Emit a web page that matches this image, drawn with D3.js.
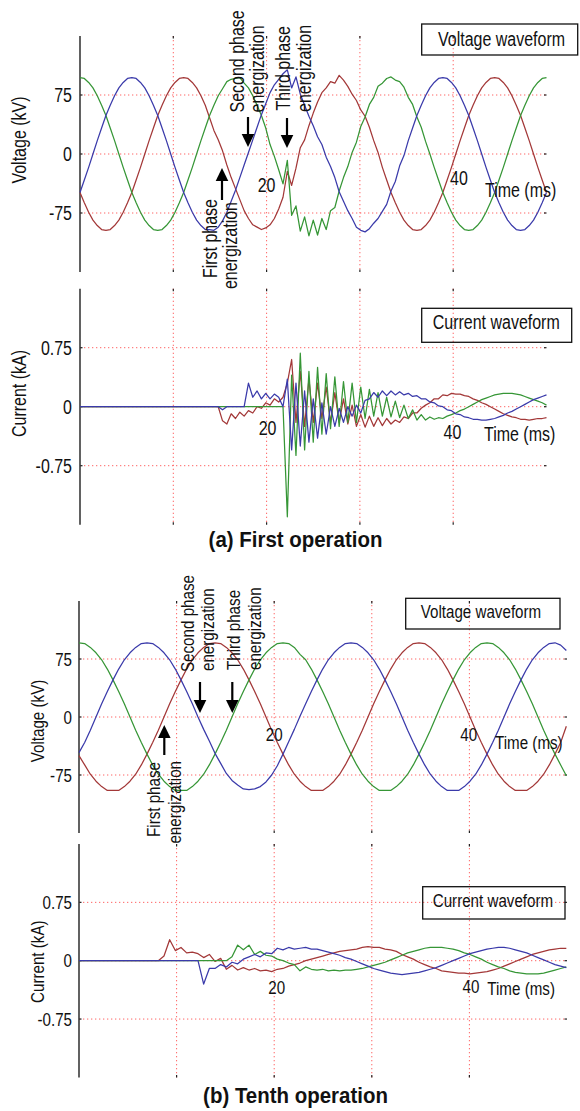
<!DOCTYPE html>
<html>
<head>
<meta charset="utf-8">
<script src="https://cdn.jsdelivr.net/npm/d3@7"></script>
<style>
  html, body { margin: 0; padding: 0; background: #fff; }
  svg text { font-family: "Liberation Sans", Arial, Helvetica, sans-serif; fill: #111; }
</style>
</head>
<body>
<svg id="chart" width="580" height="1111"></svg>
<script>
// ---------------------------------------------------------------
// Axes and ticks
// ---------------------------------------------------------------
const timeDomainMs = [0, 50];
const gridTimesMs = [10, 20, 30, 40];
const timeTickLabels = [20, 40];
const voltageDomain = [-150, 150];
const voltageTicks = [-75, 0, 75];
const voltageTickLabels = ["-75", "0", "75"];
const currentDomain = [-1.5, 1.5];
const currentTicks = [-0.75, 0, 0.75];
const currentTickLabels = ["-0.75", "0", "0.75"];

// Sampling interval of each recorded waveform (ms per sample)
const sampleStepA = 50 / 108;   // first operation record
const sampleStepB = 0.5806;     // tenth operation record

// ---------------------------------------------------------------
// (a) First operation - phase voltages (kV)
// ---------------------------------------------------------------
const voltA_red = [
  -49, -62, -74, -84, -91, -96, -97, -96, -91, -84,
  -74, -62, -49, -33, -17, 0, 17, 33, 49, 62,
  74, 84, 91, 96, 97, 96, 91, 84, 74, 62,
  46, 30, 18, 4, -14, -30, -44, -58, -72, -82,
  -90, -93, -96, -94, -90, -82, -70, -55, -22, -40,
  -18, 8, 18, 36, 52, 66, 78, 84, 92, 90,
  100, 94, 86, 76, 68, 56, 48, 34, 17, 2,
  -17, -33, -49, -62, -74, -84, -91, -96, -97, -96,
  -91, -84, -74, -62, -49, -33, -17, 0, 17, 33,
  49, 62, 74, 84, 91, 96, 97, 96, 91, 84,
  74, 62, 49, 33, 17, 0, -17, -33, -49
];
const voltA_green = [
  97, 96, 91, 84, 74, 62, 49, 33, 17, 0,
  -17, -33, -49, -62, -74, -84, -91, -96, -97, -96,
  -91, -84, -74, -62, -49, -33, -17, 0, 17, 33,
  49, 62, 74, 83, 92, 95, 96, 97, 90, 84,
  74, 62, 49, 33, 12, -3, -20, -38, -8, -78,
  -66, -98, -80, -104, -84, -103, -82, -96, -72, -68,
  -47, -30, -16, 2, 15, 35, 47, 63, 72, 86,
  90, 96, 98, 94, 92, 85, 72, 63, 47, 34,
  16, 0, -17, -33, -49, -62, -74, -84, -91, -96,
  -97, -96, -91, -84, -74, -62, -49, -33, -17, 0,
  17, 33, 49, 62, 74, 84, 91, 96, 97
];
const voltA_blue = [
  -49, -33, -17, 0, 17, 33, 49, 62, 74, 84,
  91, 96, 97, 96, 91, 84, 74, 62, 49, 33,
  17, 0, -17, -33, -49, -62, -74, -84, -91, -96,
  -96, -97, -93, -85, -74, -60, -46, -30, -14, 2,
  18, 34, 50, 64, 78, 88, 95, 102, 107, 84,
  98, 76, 62, 48, 36, 22, 12, -4, -16, -30,
  -48, -60, -72, -82, -93, -97, -99, -95, -88, -82,
  -73, -64, -47, -35, -15, -2, 17, 33, 49, 62,
  74, 84, 91, 96, 97, 96, 91, 84, 74, 62,
  49, 33, 17, 0, -17, -33, -49, -62, -74, -84,
  -91, -96, -97, -96, -91, -84, -74, -62, -49
];

// ---------------------------------------------------------------
// (a) First operation - phase currents (kA)
// ---------------------------------------------------------------
const currA_red = [
  0, 0, 0, 0, 0, 0, 0, 0, 0, 0,
  0, 0, 0, 0, 0, 0, 0, 0, 0, 0,
  0, 0, 0, 0, 0, 0, 0, 0, 0, 0,
  0, 0, 0, -0.18, -0.22, -0.09, -0.15, -0.07, -0.12, -0.05,
  -0.08, 0.0, -0.02, 0.05, 0.02, 0.1, 0.06, 0.12, 0.3, 0.6,
  -0.2, 0.45, -0.25, 0.35, -0.2, 0.3, -0.15, 0.25, -0.2, 0.18,
  -0.2, 0.1, -0.22, 0.02, -0.25, -0.1, -0.26, -0.12, -0.25, -0.14,
  -0.24, -0.15, -0.22, -0.17, -0.2, -0.13, -0.15, -0.08, -0.08, -0.02,
  0.02, 0.05, 0.1, 0.1, 0.15, 0.14, 0.17, 0.16, 0.16, 0.14,
  0.13, 0.1, 0.08, 0.05, 0.03, 0.0, -0.03, -0.06, -0.09, -0.11,
  -0.13, -0.14, -0.16, -0.16, -0.17, -0.16, -0.15, -0.15, -0.14
];
const currA_green = [
  0, 0, 0, 0, 0, 0, 0, 0, 0, 0,
  0, 0, 0, 0, 0, 0, 0, 0, 0, 0,
  0, 0, 0, 0, 0, 0, 0, 0, 0, 0,
  0, 0, 0, 0, 0, 0, 0, 0, 0, 0,
  0, 0, 0, 0, 0, 0, 0, 0, -1.40, 0.40,
  -0.62, 0.68, -0.55, 0.45, -0.45, 0.5, -0.35, 0.42, -0.28, 0.38,
  -0.25, 0.32, -0.2, 0.3, -0.2, 0.25, -0.15, 0.22, -0.12, 0.18,
  -0.12, 0.12, -0.13, 0.07, -0.14, 0.02, -0.15, -0.04, -0.17, -0.1,
  -0.17, -0.13, -0.16, -0.14, -0.15, -0.12, -0.1, -0.08, -0.05, -0.03,
  0.0, 0.03, 0.06, 0.09, 0.11, 0.13, 0.15, 0.16, 0.17, 0.17,
  0.17, 0.16, 0.15, 0.13, 0.11, 0.09, 0.07, 0.05, 0.02
];
const currA_blue = [
  0, 0, 0, 0, 0, 0, 0, 0, 0, 0,
  0, 0, 0, 0, 0, 0, 0, 0, 0, 0,
  0, 0, 0, 0, 0, 0, 0, 0, 0, 0,
  0, 0, 0, -0.04, 0, 0, 0, 0, 0, 0.3,
  0.12, 0.2, 0.1, 0.17, 0.1, 0.16, 0.12, 0.0, 0.35, -0.55,
  0.3, -0.5, 0.2, -0.45, 0.1, -0.4, 0.05, -0.35, 0.0, -0.25,
  -0.02, -0.2, 0.0, -0.12, 0.02, -0.08, 0.08, 0.1, 0.18, 0.12,
  0.2, 0.14, 0.2, 0.15, 0.19, 0.15, 0.17, 0.13, 0.14, 0.1,
  0.1, 0.06, 0.05, 0.01, 0.0, -0.04, -0.05, -0.09, -0.1, -0.13,
  -0.14, -0.16, -0.16, -0.17, -0.17, -0.16, -0.15, -0.13, -0.11, -0.08,
  -0.06, -0.03, 0.0, 0.03, 0.06, 0.09, 0.11, 0.13, 0.15
];

// ---------------------------------------------------------------
// (b) Tenth operation - phase voltages (kV)
// ---------------------------------------------------------------
const voltB_red = [
  -50, -62, -74, -83, -90, -95, -95, -95, -90, -83,
  -74, -62, -48, -33, -17, 0, 17, 33, 48, 62,
  74, 83, 90, 95, 96, 95, 90, 83, 74, 62,
  48, 33, 17, 0, -17, -33, -48, -62, -74, -83,
  -90, -95, -95, -95, -90, -83, -74, -62, -48, -33,
  -17, 0, 17, 33, 48, 62, 74, 83, 90, 95,
  96, 95, 90, 83, 74, 62, 48, 33, 17, 0,
  -17, -33, -48, -62, -74, -83, -90, -95, -95, -95,
  -90, -83, -74, -62, -48, -33, -12
];
const voltB_green = [
  96, 95, 90, 83, 74, 62, 48, 33, 17, 0,
  -17, -33, -48, -62, -74, -83, -90, -95, -95, -95,
  -90, -83, -74, -62, -48, -33, -17, 0, 17, 33,
  48, 62, 74, 83, 90, 95, 96, 95, 90, 81,
  74, 62, 48, 33, 17, 0, -17, -33, -48, -62,
  -74, -83, -90, -95, -95, -95, -90, -83, -74, -62,
  -48, -33, -17, 0, 17, 33, 48, 62, 74, 83,
  90, 95, 96, 95, 90, 83, 74, 62, 48, 33,
  17, 0, -17, -33, -48, -62, -76
];
const voltB_blue = [
  -46, -33, -17, 0, 17, 33, 48, 62, 74, 83,
  90, 95, 96, 95, 90, 83, 74, 62, 48, 33,
  17, 0, -16, -31, -47, -60, -73, -82, -88, -93,
  -94, -93, -90, -84, -75, -63, -48, -32, -16, 1,
  17, 33, 48, 62, 74, 83, 90, 95, 96, 95,
  90, 83, 74, 62, 48, 33, 17, 0, -17, -33,
  -48, -62, -74, -83, -90, -95, -95, -95, -90, -83,
  -74, -62, -48, -33, -17, 0, 17, 33, 48, 62,
  74, 83, 90, 95, 96, 93, 86
];

// ---------------------------------------------------------------
// (b) Tenth operation - phase currents (kA)
// ---------------------------------------------------------------
const currB_red = [
  0, 0, 0, 0, 0, 0, 0, 0, 0, 0,
  0, 0, 0, 0, 0, 0.06, 0.27, 0.13, 0.17, 0.1,
  0.11, 0.09, 0.04, 0.08, -0.01, 0.03, -0.11, -0.06, -0.12, -0.09,
  -0.12, -0.1, -0.13, -0.12, -0.14, -0.11, -0.1, -0.07, -0.05, -0.03,
  0.0, 0.02, 0.04, 0.06, 0.08, 0.1, 0.12, 0.13, 0.14, 0.15,
  0.17, 0.18, 0.17, 0.17, 0.15, 0.14, 0.12, 0.08, 0.05, 0.02,
  -0.02, -0.05, -0.08, -0.1, -0.13, -0.14, -0.15, -0.16, -0.16, -0.17,
  -0.16, -0.15, -0.14, -0.12, -0.1, -0.07, -0.04, -0.01, 0.02, 0.05,
  0.08, 0.1, 0.12, 0.14, 0.15, 0.16, 0.16
];
const currB_green = [
  0, 0, 0, 0, 0, 0, 0, 0, 0, 0,
  0, 0, 0, 0, 0, 0, 0, 0, 0, 0,
  0, 0, 0, 0, 0, 0, 0, 0.05, 0.2, 0.14,
  0.2, 0.08, 0.12, 0.07, 0.06, 0.02, 0.0, -0.03, -0.05, -0.13,
  -0.08, -0.11, -0.12, -0.11, -0.13, -0.12, -0.13, -0.12, -0.12, -0.11,
  -0.1, -0.08, -0.06, -0.04, -0.02, 0.01, 0.04, 0.07, 0.1, 0.12,
  0.14, 0.16, 0.17, 0.17, 0.17, 0.16, 0.15, 0.13, 0.1, 0.08,
  0.05, 0.02, -0.02, -0.05, -0.08, -0.1, -0.13, -0.15, -0.16, -0.17,
  -0.17, -0.17, -0.16, -0.14, -0.12, -0.1, -0.08
];
const currB_blue = [
  0, 0, 0, 0, 0, 0, 0, 0, 0, 0,
  0, 0, 0, 0, 0, 0, 0, 0, 0, 0,
  0, 0.0, -0.3, -0.1, -0.1, -0.05, -0.08, -0.02, -0.04, 0.02,
  0.05, 0.08, 0.05, 0.1, 0.09, 0.16, 0.14, 0.17, 0.15, 0.16,
  0.17, 0.15, 0.15, 0.13, 0.11, 0.09, 0.07, 0.04, 0.02, -0.01,
  -0.04, -0.07, -0.1, -0.12, -0.14, -0.16, -0.17, -0.18, -0.17, -0.16,
  -0.15, -0.13, -0.11, -0.09, -0.06, -0.03, 0.0, 0.03, 0.06, 0.09,
  0.11, 0.13, 0.15, 0.16, 0.17, 0.17, 0.16, 0.14, 0.12, 0.1,
  0.07, 0.04, 0.01, -0.02, -0.05, -0.07, -0.09
];

// Phase colours (drawn red, green, blue so the blue trace sits on top)
const phaseColors = ["#a33838", "#369636", "#3a3aaa"];

// ---------------------------------------------------------------
// Drawing
// ---------------------------------------------------------------
const svg = d3.select("#chart");
const NARROW = 0.82;   // horizontal squeeze giving the condensed label face

function addText(g, str, x, y, opt) {
  const o = Object.assign({ size: 19.5, anchor: "start", rotate: 0, weight: "normal", sx: NARROW }, opt || {});
  return g.append("text")
    .attr("transform", `translate(${x},${y}) rotate(${o.rotate}) scale(${o.sx},1)`)
    .attr("text-anchor", o.anchor)
    .attr("font-size", o.size)
    .attr("font-weight", o.weight)
    .text(str);
}

function addArrow(g, x, tailY, tipY) {
  const dir = tipY > tailY ? 1 : -1;
  const headLen = 13, halfW = 6.3;
  g.append("line")
    .attr("x1", x).attr("x2", x)
    .attr("y1", tailY).attr("y2", tipY - dir * headLen * 0.6)
    .attr("stroke", "#000").attr("stroke-width", 2.2);
  g.append("path")
    .attr("d", `M${x},${tipY} L${x - halfW},${tipY - dir * headLen} L${x + halfW},${tipY - dir * headLen} Z`)
    .attr("fill", "#000");
}

function drawPanel(p) {
  const g = svg.append("g");
  const x = d3.scaleLinear().domain(timeDomainMs).range([p.left, p.right]);
  const y = d3.scaleLinear().domain(p.domain).range([p.bottom, p.top]);
  const gridStyle = sel => sel.attr("stroke", "#ff4a4a").attr("stroke-width", 1)
    .attr("stroke-dasharray", "1.3,2.7").attr("opacity", 0.85);

  // dotted grid
  g.selectAll(null).data(gridTimesMs).join("line")
    .attr("x1", d => x(d)).attr("x2", d => x(d))
    .attr("y1", p.top).attr("y2", p.bottom).call(gridStyle);
  g.selectAll(null).data(p.ticks).join("line")
    .attr("x1", p.left).attr("x2", p.right)
    .attr("y1", d => y(d)).attr("y2", d => y(d)).call(gridStyle);

  // short dark tick marks where the grid meets the plot frame
  const tickStyle = sel => sel.attr("stroke", "#222").attr("stroke-width", 1.2);
  g.selectAll(null).data(gridTimesMs).join("line")
    .attr("x1", d => x(d)).attr("x2", d => x(d))
    .attr("y1", p.top).attr("y2", p.top + 2.5).call(tickStyle);
  g.selectAll(null).data(gridTimesMs).join("line")
    .attr("x1", d => x(d)).attr("x2", d => x(d))
    .attr("y1", p.bottom - 2.5).attr("y2", p.bottom).call(tickStyle);
  g.selectAll(null).data(p.ticks).join("line")
    .attr("x1", p.right - 2.5).attr("x2", p.right)
    .attr("y1", d => y(d)).attr("y2", d => y(d)).call(tickStyle);
  g.selectAll(null).data(p.ticks).join("line")
    .attr("x1", p.left).attr("x2", p.left + 2.5)
    .attr("y1", d => y(d)).attr("y2", d => y(d)).call(tickStyle);

  // left axis line
  g.append("line")
    .attr("x1", p.left).attr("x2", p.left)
    .attr("y1", p.top).attr("y2", p.bottom)
    .attr("stroke", "#3a3a3a").attr("stroke-width", 1.6);

  // phase traces
  const line = d3.line()
    .x((d, i) => x(i * p.step))
    .y(d => y(d));
  p.series.forEach((values, k) => {
    g.append("path")
      .datum(values)
      .attr("d", line)
      .attr("fill", "none")
      .attr("stroke", phaseColors[k])
      .attr("stroke-width", 1.25)
      .attr("stroke-linejoin", "round");
  });

  // y tick labels
  p.ticks.forEach((v, i) => {
    addText(g, p.tickLabels[i], 72, y(v) + p.size * 0.36, { size: p.size, anchor: "end" });
  });

  // time tick labels placed just under the zero line
  timeTickLabels.forEach((t, i) => {
    addText(g, String(t), x(t) + p.timeLab[i].dx, p.timeLab[i].by, { size: p.size, anchor: "middle" });
  });
  addText(g, "Time (ms)", p.timeTitle.x, p.timeTitle.y, { size: p.size });

  // y axis title
  addText(g, p.yTitle, p.yTitlePos[0], p.yTitlePos[1], { size: p.size, anchor: "middle", rotate: -90 });

  // caption box
  g.append("rect")
    .attr("x", p.box.x).attr("y", p.box.y)
    .attr("width", p.box.w).attr("height", p.box.h)
    .attr("fill", "none").attr("stroke", "#111").attr("stroke-width", 1.3);
  addText(g, p.box.text, p.box.tx, p.box.ty, { size: p.size });

  return g;
}

// ----- (a) First operation -----
drawPanel({
  left: 80, right: 546.5, top: 36, bottom: 272,
  domain: voltageDomain, ticks: voltageTicks, tickLabels: voltageTickLabels,
  step: sampleStepA, series: [voltA_red, voltA_green, voltA_blue], size: 19.5,
  timeLab: [{ dx: 0, by: 191.5 }, { dx: 5.8, by: 185 }],
  timeTitle: { x: 485, y: 197 },
  yTitle: "Voltage (kV)", yTitlePos: [25.7, 140],
  box: { x: 421.7, y: 24, w: 156, h: 31, tx: 438, ty: 45.7, text: "Voltage waveform" }
});
drawPanel({
  left: 80, right: 546.5, top: 288.7, bottom: 524.7,
  domain: currentDomain, ticks: currentTicks, tickLabels: currentTickLabels,
  step: sampleStepA, series: [currA_red, currA_green, currA_blue], size: 19.5,
  timeLab: [{ dx: 1, by: 435 }, { dx: -0.7, by: 439 }],
  timeTitle: { x: 484, y: 441 },
  yTitle: "Current (kA)", yTitlePos: [25.7, 393.5],
  box: { x: 421.7, y: 308.3, w: 150, h: 34, tx: 432.7, ty: 329, text: "Current waveform" }
});

// ----- (b) Tenth operation -----
drawPanel({
  left: 79, right: 567, top: 601, bottom: 833,
  domain: voltageDomain, ticks: voltageTicks, tickLabels: voltageTickLabels,
  step: sampleStepB, series: [voltB_red, voltB_green, voltB_blue], size: 18.5,
  timeLab: [{ dx: 0, by: 740.5 }, { dx: -0.7, by: 741 }],
  timeTitle: { x: 495, y: 749 },
  yTitle: "Voltage (kV)", yTitlePos: [44, 721],
  box: { x: 405.7, y: 598.3, w: 154.3, h: 30.7, tx: 420.7, ty: 618.3, text: "Voltage waveform" }
});
drawPanel({
  left: 79, right: 567, top: 844, bottom: 1077.4,
  domain: currentDomain, ticks: currentTicks, tickLabels: currentTickLabels,
  step: sampleStepB, series: [currB_red, currB_green, currB_blue], size: 18.5,
  timeLab: [{ dx: 2.5, by: 993.5 }, { dx: 1.6, by: 993 }],
  timeTitle: { x: 487.3, y: 995.2 },
  yTitle: "Current (kA)", yTitlePos: [44, 961.7],
  box: { x: 422.7, y: 886.7, w: 142.3, h: 32.3, tx: 432.7, ty: 906.6, text: "Current waveform" }
});

// ----- energization annotations -----
const notes = svg.append("g");
// first operation
addText(notes, "Second phase", 243.5, 112.5, { rotate: -90 });
addText(notes, "energization", 263.5, 112.5, { rotate: -90 });
addText(notes, "Third phase", 290, 110.5, { rotate: -90 });
addText(notes, "energization", 310.5, 112, { rotate: -90 });
addText(notes, "First phase", 217, 199, { rotate: -90, anchor: "end" });
addText(notes, "energization", 237, 202, { rotate: -90, anchor: "end" });
addArrow(notes, 248, 117, 147);
addArrow(notes, 287, 118, 148);
addArrow(notes, 222, 200, 168);

// tenth operation
addText(notes, "Second phase", 194, 672, { rotate: -90, size: 18.5 });
addText(notes, "energization", 213.5, 671, { rotate: -90, size: 18.5 });
addText(notes, "Third phase", 240, 670, { rotate: -90, size: 18.5 });
addText(notes, "energization", 260.5, 670, { rotate: -90, size: 18.5 });
addText(notes, "First phase", 160, 762, { rotate: -90, anchor: "end", size: 18.5 });
addText(notes, "energization", 181, 761, { rotate: -90, anchor: "end", size: 18.5 });
addArrow(notes, 200, 682, 713);
addArrow(notes, 232.3, 682, 713);
addArrow(notes, 164.3, 755, 725);

// ----- sub-figure captions -----
addText(notes, "(a) First operation", 295.5, 547, { size: 22, weight: "bold", anchor: "middle", sx: 0.93 });
addText(notes, "(b) Tenth operation", 295.5, 1102.5, { size: 22, weight: "bold", anchor: "middle", sx: 0.93 });
</script>
</body>
</html>
